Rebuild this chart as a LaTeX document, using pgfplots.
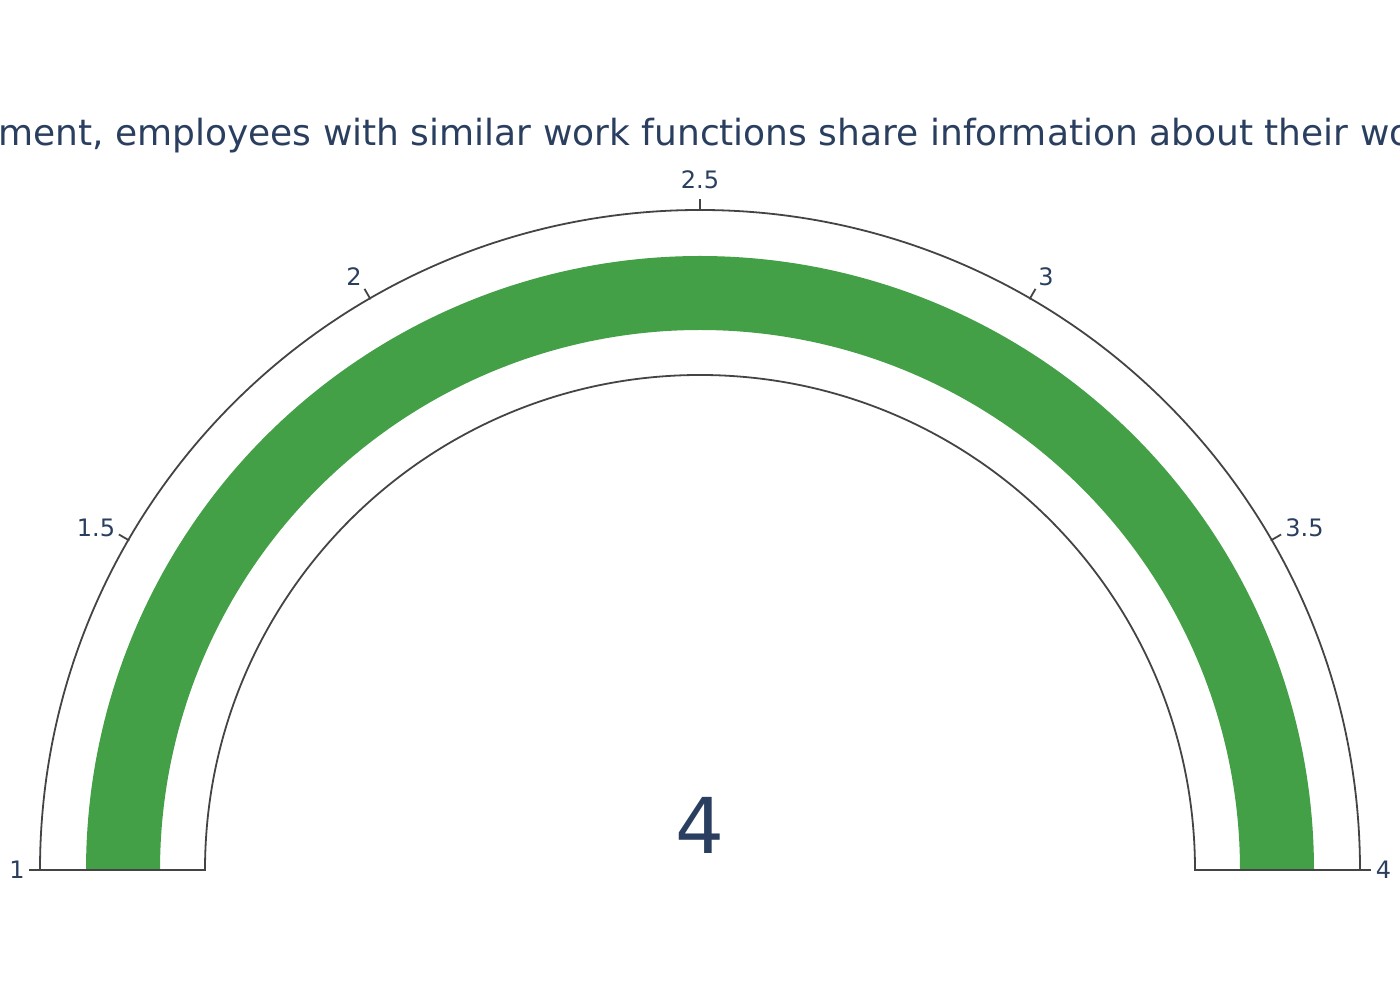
\documentclass[border=0pt]{standalone}
\usepackage{pgfplots}
\pgfplotsset{compat=1.18}
\usepackage{fontspec}
\setmainfont{DejaVu Sans}
\definecolor{gtext}{HTML}{2A3F5F}
\definecolor{gline}{HTML}{444444}
\definecolor{gbar}{HTML}{43A047}
\pgfmathsetmacro{\gmin}{1}
\pgfmathsetmacro{\gmax}{4}
\pgfmathsetmacro{\gval}{4}
\pgfmathsetmacro{\gang}{180-(\gval-\gmin)/(\gmax-\gmin)*180}
\begin{document}
\begin{tikzpicture}
\clip (0,0) rectangle (1400pt,1000pt);
\begin{axis}[at={(0,0)}, anchor=south west, width=1400pt, height=1000pt,
  scale only axis, xmin=0, xmax=1400, ymin=0, ymax=1000, hide axis, clip=false]
% value bar
\addplot[gbar, line width=74pt, domain=\gang:180, samples=181, line cap=butt]
  ({700+577*cos(x)},{130+577*sin(x)});
% gauge outline
\draw[gline, line width=1.8pt] (axis cs:40,130) arc[start angle=180, end angle=0, radius=660pt]
  -- (axis cs:1195,130) arc[start angle=0, end angle=180, radius=495pt] -- cycle;
% title
\node[anchor=base west, inner sep=0, text=gtext, font=\fontsize{36pt}{42pt}\selectfont]
  at (axis cs:-2,854) {\llap{In my depart}ment, employees with similar work functions share information about their work};
% value
\node[anchor=base, inner sep=0, text=gtext, font=\fontsize{77pt}{90pt}\selectfont]
  at (axis cs:700,146) {4};
\end{axis}
% ticks and tick labels
\foreach \a in {180,150,120,90,60,30,0}{
  \draw[gline, line width=1.8pt] ([shift={(700pt,130pt)}]\a:659pt) -- ([shift={(700pt,130pt)}]\a:671pt);
}
\foreach \t/\x/\y in {1/17/870, 1.5/96/528, 2/354/276.5, 2.5/700/180, 3/1046/276.5, 3.5/1304.5/528, 4/1383.5/869.5}{
  \node[inner sep=0, text=gtext, font=\fontsize{24pt}{28pt}\selectfont] at (\x pt, 1000pt-\y pt) {\t};
}
\end{tikzpicture}
\end{document}
